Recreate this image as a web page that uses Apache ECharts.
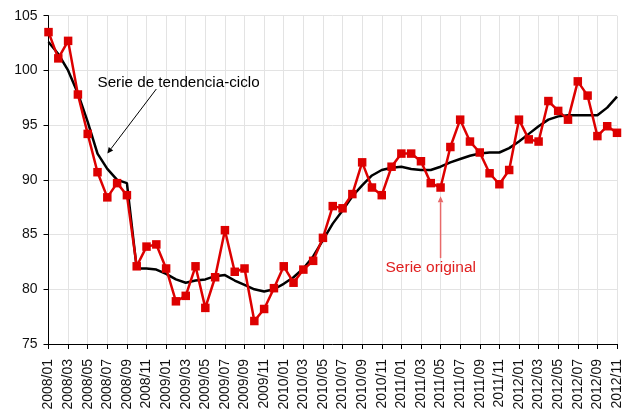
<!DOCTYPE html>
<html>
<head>
<meta charset="utf-8">
<script src="https://cdn.jsdelivr.net/npm/echarts@6/dist/echarts.min.js"></script>
<style>html,body{margin:0;padding:0;background:#fff}#c{width:624px;height:418px}</style>
</head>
<body>
<div id="c"></div>
<script>
var years = [2008, 2009, 2010, 2011, 2012];
var lastMonth2012 = 11;
var categories = [];
years.forEach(function (y) {
  var n = (y === 2012) ? lastMonth2012 : 12;
  for (var m = 1; m <= n; m++) categories.push(y + '/' + (m < 10 ? '0' + m : m));
});

var serieOriginal = [
  103.5, 101.1, 102.7, 97.8, 94.2, 90.7, 88.4, 89.7, 88.6, 82.1, 83.9, 84.1,
  81.9, 78.9, 79.4, 82.1, 78.3, 81.1, 85.4, 81.6, 81.9, 77.1, 78.2, 80.1,
  82.1, 80.6, 81.8, 82.6, 84.7, 87.6, 87.4, 88.7, 91.6, 89.3, 88.6, 91.2,
  92.4, 92.4, 91.7, 89.7, 89.3, 93.0, 95.5, 93.5, 92.5, 90.6, 89.6, 90.9,
  95.5, 93.7, 93.5, 97.2, 96.3, 95.5, 99.0, 97.7, 94.0, 94.9, 94.3
];
var serieTendencia = [
  102.6, 101.5, 100.0, 97.9, 95.3, 92.4, 91.0, 90.0, 89.7, 81.9, 81.9, 81.8,
  81.4, 80.9, 80.6, 80.8, 80.9, 81.2, 81.3, 80.8, 80.4, 80.0, 79.8, 80.0,
  80.5, 81.1, 81.9, 83.0, 84.5, 86.0, 87.2, 88.5, 89.5, 90.4, 90.9, 91.1,
  91.2, 91.0, 90.9, 90.9, 91.2, 91.6, 91.9, 92.2, 92.4, 92.5, 92.5, 92.9,
  93.5, 94.2, 94.9, 95.5, 95.8, 95.9, 95.9, 95.9, 95.9, 96.6, 97.6
];
var yTicks = [75, 80, 85, 90, 95, 100, 105];

// annotations in data space: [categoryIndex, value]
var annTrend = { text: 'Serie de tendencia-ciclo', textAt: [4.7, 98.85], from: [10.95, 98.3], to: [5.6, 92.4] };
var annOrig = { text: 'Serie original', textAt: [39.1, 81.95], from: [40.2, 82.85], to: [40.2, 88.5] };

var FONT = 'Liberation Sans, Arial, sans-serif';
var chart = echarts.init(document.getElementById('c'));
chart.setOption({
  animation: false,
  grid: { left: 48.5, right: 0, top: 15.7, bottom: 74 },
  xAxis: {
    type: 'category',
    data: categories,
    boundaryGap: false,
    axisLine: { lineStyle: { color: '#000', width: 1 } },
    axisTick: { interval: 1, length: 5, lineStyle: { color: '#000' } },
    axisLabel: { interval: 1, rotate: 90, margin: 15, fontSize: 14, color: '#111', fontFamily: FONT },
    splitLine: { show: true, interval: 1, lineStyle: { color: '#e3e3e3', width: 1 } }
  },
  yAxis: {
    type: 'value',
    min: yTicks[0], max: yTicks[yTicks.length - 1], interval: 5,
    axisLine: { show: true, lineStyle: { color: '#000', width: 1 } },
    axisTick: { show: true, length: 5, lineStyle: { color: '#000' } },
    axisLabel: { margin: 11, fontSize: 14, color: '#111', fontFamily: FONT },
    splitLine: { show: true, lineStyle: { color: '#e3e3e3', width: 1 } }
  },
  series: [
    {
      name: 'Serie de tendencia-ciclo', type: 'line', data: serieTendencia,
      showSymbol: false, symbol: 'none', z: 2,
      lineStyle: { color: '#000', width: 2.5 }
    },
    {
      name: 'Serie original', type: 'line', data: serieOriginal,
      symbol: 'rect', symbolSize: 8.5, showAllSymbol: true, z: 3,
      itemStyle: { color: '#dd0000' },
      lineStyle: { color: '#dd0000', width: 2.5 }
    }
  ]
});

function px(p) { return chart.convertToPixel({ gridIndex: 0 }, p); }
function arrow(a, color, width) {
  var f = px(a.from), t = px(a.to);
  var dx = t[0] - f[0], dy = t[1] - f[1], L = Math.sqrt(dx * dx + dy * dy);
  var ux = dx / L, uy = dy / L, hl = 6, hw = 2.8;
  var bx = t[0] - ux * hl, by = t[1] - uy * hl;
  return [
    { type: 'line', shape: { x1: f[0], y1: f[1], x2: bx, y2: by }, style: { stroke: color, lineWidth: width }, z: 10 },
    { type: 'polygon', shape: { points: [[t[0], t[1]], [bx - uy * hw, by + ux * hw], [bx + uy * hw, by - ux * hw]] }, style: { fill: color }, z: 10 }
  ];
}
var tp = px(annTrend.textAt), op = px(annOrig.textAt);
var g = [];
g = g.concat(arrow(annTrend, '#000', 1));
g = g.concat(arrow(annOrig, '#e86a6a', 1.5));
g.push({ type: 'text', x: tp[0], y: tp[1], style: { text: annTrend.text, fill: '#000', font: '15.2px ' + FONT, textAlign: 'left', textVerticalAlign: 'middle' }, z: 11 });
g.push({ type: 'text', x: op[0], y: op[1], style: { text: annOrig.text, fill: '#e02020', font: '15.5px ' + FONT, textAlign: 'center', textVerticalAlign: 'middle' }, z: 11 });
chart.setOption({ graphic: g });
</script>
</body>
</html>
